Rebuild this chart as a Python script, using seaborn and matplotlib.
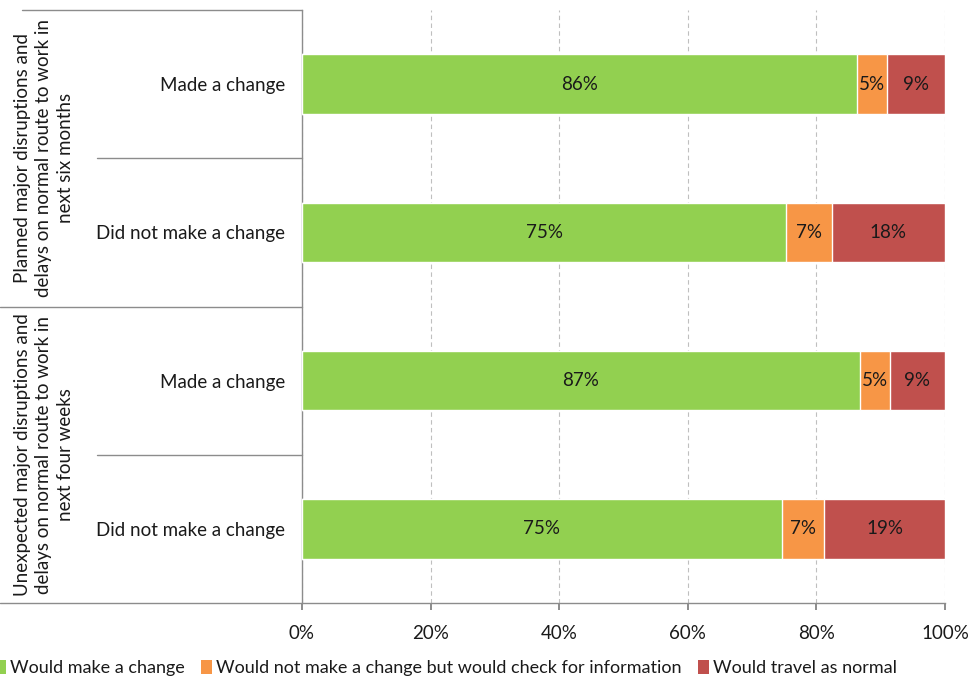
import matplotlib
matplotlib.use("Agg")
import matplotlib.pyplot as plt
from matplotlib.patches import Patch
from matplotlib.lines import Line2D
import seaborn as sns
import pandas as pd
import numpy as np

# Survey responses (share of respondents, %)
responses = ["Made a change", "Did not make a change",
             "Made a change", "Did not make a change"]
groups = ["Planned major disruptions and\ndelays on normal route to work in\nnext six months",
          "Unexpected major disruptions and\ndelays on normal route to work in\nnext four weeks"]
would_change = [86.3, 75.3, 86.8, 74.6]
check_info = [4.7, 7.1, 4.6, 6.6]
travel_normal = [9.0, 17.6, 8.6, 18.8]
series_names = ["Would make a change",
                "Would not make a change but would check for information",
                "Would travel as normal"]
colors = ["#92D050", "#F79646", "#C0504D"]
x_ticks = [0, 20, 40, 60, 80, 100]

FS = 13.5

sns.set_theme(style="white")
plt.rcParams["font.family"] = ["Lato", "DejaVu Sans"]

fig = plt.figure(figsize=(9.7, 6.82), dpi=100)
W, H = 970, 682
ax = fig.add_axes([302 / W, 1 - 603 / H, (945 - 302) / W, (603 - 10) / H])

df = pd.DataFrame({"row": [f"r{i}" for i in range(4)],
                   "g": would_change, "o": check_info, "r": travel_normal})
df["go"] = df["g"] + df["o"]
df["gor"] = df["go"] + df["r"]

# Stacked bars: draw cumulative totals from the back to the front
for col, c in zip(["gor", "go", "g"], colors[::-1]):
    sns.barplot(data=df, y="row", x=col, color=c, orient="h", width=0.4,
                saturation=1, ax=ax, zorder=3)

# Segment value labels
for i in range(4):
    starts = [0, would_change[i], would_change[i] + check_info[i]]
    vals = [would_change[i], check_info[i], travel_normal[i]]
    for s, v in zip(starts, vals):
        ax.text(s + v / 2, i, f"{round(v):d}%", ha="center", va="center",
                fontsize=FS, color="#1a1a1a", zorder=5)

ax.set_xlim(0, 100)
ax.set_ylim(3.5, -0.5)
ax.set_xticks(x_ticks)
ax.set_xticklabels([f"{t}%" for t in x_ticks], fontsize=FS, color="#1a1a1a")
ax.set_yticks(range(4))
ax.set_yticklabels(responses, fontsize=FS, color="#1a1a1a")
ax.set_xlabel("")
ax.set_ylabel("")
ax.tick_params(axis="y", length=0, pad=12)
ax.tick_params(axis="x", length=5, direction="out", color="#7f7f7f", pad=11,
               bottom=True)
ax.xaxis.grid(True, linestyle=(0, (4, 3)), color="#bfbfbf", linewidth=0.8)
ax.set_axisbelow(True)
for side in ["top", "right"]:
    ax.spines[side].set_visible(False)
for side in ["left", "bottom"]:
    ax.spines[side].set_color("#8c8c8c")
    ax.spines[side].set_linewidth(1)

# Category separators to the left of the axis
def hline(y_px, x0_px):
    fig.add_artist(Line2D([x0_px / W, 302 / W], [1 - y_px / H, 1 - y_px / H],
                          color="#8c8c8c", linewidth=1))

hline(10, 22)
hline(158, 97)
hline(307, 0)
hline(455, 97)
hline(603, 0)

# Group labels
for gi, g in enumerate(groups):
    yc = 158 + gi * 297
    fig.text(44 / W, 1 - yc / H, g, rotation=90, ha="center", va="center",
             multialignment="center", fontsize=FS, color="#1a1a1a",
             linespacing=1.3)

handles = [Patch(facecolor=c, edgecolor="none") for c in colors]
fig.legend(handles, series_names, loc="center left",
           bbox_to_anchor=(-0.006, 1 - 668 / H), ncol=3, frameon=False,
           fontsize=13, handlelength=0.65, handleheight=0.8,
           handletextpad=0.2, columnspacing=0.9, borderaxespad=0,
           borderpad=0, labelcolor="#1a1a1a")

fig.savefig("out.png", dpi=100)
